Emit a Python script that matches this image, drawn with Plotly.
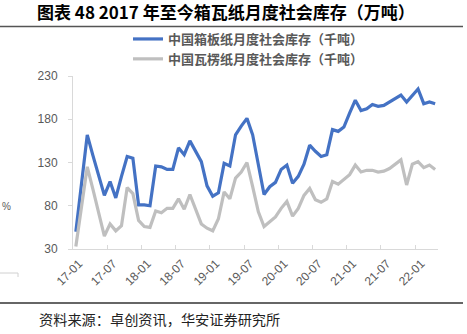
import plotly.graph_objects as go

# ---- data (monthly, 2017-01 .. 2022-04) ----
months = [f"{y % 100:02d}-{m:02d}" for y in range(2017, 2023) for m in range(1, 13)][:64]

boxboard = [50, 106, 162, 138, 114, 92, 108, 89, 114, 137,
            135, 81, 81, 80, 126, 125, 122, 122, 147, 139,
            155, 143, 131, 103, 91, 95, 129, 126, 162, 172,
            181, 162, 125, 93, 102, 107, 122, 127, 106, 114,
            128, 150, 143, 137, 139, 168, 166, 171, 187, 202,
            190, 192, 197, 195, 196, 200, 204, 208, 200, 208,
            215, 198, 200, 198]

corrugated = [33, 80, 125, 99, 73, 45, 59, 51, 57, 101,
              94, 63, 56, 55, 74, 72, 77, 77, 88, 76,
              93, 75, 59, 54, 51, 65, 96, 88, 112, 119,
              130, 102, 73, 56, 61, 67, 77, 85, 68, 77,
              92, 100, 87, 84, 88, 108, 105, 110, 116, 127,
              119, 121, 121, 119, 120, 123, 128, 133, 104, 128,
              131, 124, 127, 122]

tick_labels = ["17-01", "17-07", "18-01", "18-07", "19-01", "19-07",
               "20-01", "20-07", "21-01", "21-07", "22-01"]
y_ticks = [30, 80, 130, 180, 230]

series_names = ["中国箱板纸月度社会库存（千吨）", "中国瓦楞纸月度社会库存（千吨）"]
title_text = "图表 48 2017 年至今箱瓦纸月度社会库存（万吨）"
source_text = "资料来源：卓创资讯，华安证券研究所"

# ---- figure ----
W, H = 467, 334
L, R, T, B = 73, 29, 76, 85
pw, ph = W - L - R, H - T - B

def px_x(px):
    return (px - L) / pw

def px_y(py):
    return (H - B - py) / ph

x_idx = list(range(len(months)))
tick_pos = [months.index(t) - 0.5 for t in tick_labels]

fig = go.Figure()
fig.add_trace(go.Scatter(x=x_idx, y=boxboard, mode="lines", name=series_names[0],
                         text=months, line=dict(color="#4472C4", width=3.2)))
fig.add_trace(go.Scatter(x=x_idx, y=corrugated, mode="lines", name=series_names[1],
                         text=months, line=dict(color="#BFBFBF", width=3.2)))

cjk = "Noto Sans CJK SC"

fig.update_layout(
    width=W, height=H,
    margin=dict(l=L, r=R, t=T, b=B, pad=0),
    paper_bgcolor="white", plot_bgcolor="white",
    title=dict(text=title_text, x=37 / W, xref="container", xanchor="left",
               y=1 - 13.5 / H, yref="container", yanchor="middle",
               font=dict(family=cjk, size=17, color="#000000", weight="bold")),
    legend=dict(x=px_x(128), y=px_y(24), xanchor="left", yanchor="top",
                orientation="v", bgcolor="rgba(0,0,0,0)",
                font=dict(family=cjk, size=13, color="#595959", weight="bold"),
                tracegroupgap=0, itemwidth=30),
    showlegend=True,
    xaxis=dict(range=[-0.5, len(months) - 0.5], tickmode="array",
               tickvals=tick_pos, ticktext=tick_labels, tickangle=-45,
               showgrid=False, zeroline=False, showline=True,
               linecolor="#D9D9D9", linewidth=1,
               ticks="inside", ticklen=4, tickcolor="#D9D9D9",
               ticklabelshift=6, ticklabelstandoff=2,
               tickfont=dict(family="Liberation Sans", size=12, color="#595959")),
    yaxis=dict(range=[30, 230], tickmode="array", tickvals=y_ticks,
               showgrid=False, zeroline=False, showline=True,
               linecolor="#D9D9D9", linewidth=1,
               ticks="outside", ticklen=4, tickcolor="#D9D9D9",
               ticklabelstandoff=8,
               tickfont=dict(family="Liberation Sans", size=12, color="#595959")),
)

# separator lines
fig.add_shape(type="line", xref="paper", yref="paper",
              x0=px_x(0), x1=px_x(463), y0=px_y(26.5), y1=px_y(26.5),
              line=dict(color="#555555", width=1.3))
fig.add_shape(type="line", xref="paper", yref="paper",
              x0=px_x(0), x1=px_x(463), y0=px_y(303), y1=px_y(303),
              line=dict(color="#333333", width=1.3))
# fragment of neighbouring box on the left
fig.add_shape(type="path", xref="paper", yref="paper",
              path=f"M {px_x(0)} {px_y(273)} L {px_x(18)} {px_y(273)} L {px_x(18)} {px_y(277)}",
              line=dict(color="#D0D0D0", width=1))

fig.add_annotation(text=source_text, xref="paper", yref="paper",
                   x=px_x(37), y=px_y(319), xanchor="left", yanchor="middle",
                   showarrow=False, font=dict(family=cjk, size=14.2, color="#222222"))
fig.add_annotation(text="%", xref="paper", yref="paper",
                   x=px_x(0), y=px_y(206), xanchor="left", yanchor="middle",
                   showarrow=False, font=dict(family="Liberation Sans", size=10, color="#595959"))

fig.write_html("out.html")
